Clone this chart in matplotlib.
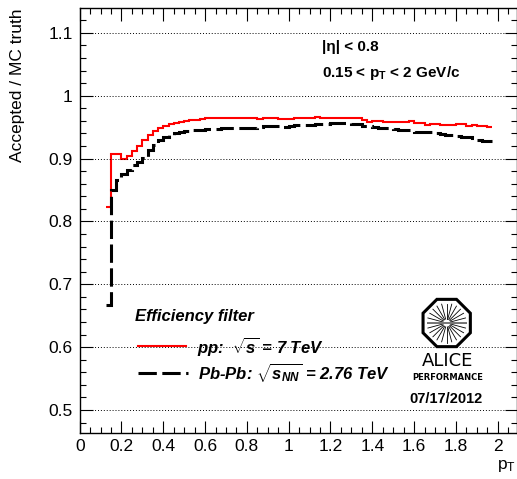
import numpy as np
import matplotlib
matplotlib.use('Agg')
import matplotlib.pyplot as plt
from matplotlib.lines import Line2D
from matplotlib.patches import RegularPolygon
from matplotlib.ticker import MultipleLocator, FuncFormatter

plt.rcParams['font.family'] = ['Liberation Sans', 'DejaVu Sans']
plt.rcParams['mathtext.fontset'] = 'custom'
plt.rcParams['mathtext.rm'] = 'Liberation Sans'
plt.rcParams['mathtext.it'] = 'Liberation Sans:italic'
plt.rcParams['mathtext.bf'] = 'Liberation Sans:bold'
try:
    plt.rcParams['mathtext.bfit'] = 'Liberation Sans:bold:italic'
except KeyError:
    pass

# ---------------- data ----------------
pt_edges = np.round(np.arange(0.125, 1.9751, 0.025), 3)   # 75 edges, 74 bins

pp_eff = [
    0.823, 0.908, 0.908, 0.900, 0.904, 0.912, 0.920, 0.930, 0.938, 0.944,
    0.948, 0.952, 0.955, 0.957, 0.958, 0.960, 0.961, 0.962, 0.963, 0.964,
    0.964, 0.965, 0.965, 0.965, 0.965, 0.965, 0.965, 0.965, 0.964, 0.963,
    0.964, 0.964, 0.964, 0.963, 0.963, 0.963, 0.964, 0.964, 0.965, 0.965,
    0.966, 0.965, 0.965, 0.965, 0.965, 0.965, 0.965, 0.964, 0.965, 0.962,
    0.958, 0.959, 0.959, 0.958, 0.958, 0.958, 0.958, 0.958, 0.959, 0.956,
    0.956, 0.954, 0.955, 0.955, 0.954, 0.954, 0.954, 0.955, 0.955, 0.952,
    0.953, 0.952, 0.952, 0.950,
]

pbpb_eff = [
    0.667, 0.850, 0.866, 0.876, 0.882, 0.890, 0.894, 0.901, 0.913, 0.921,
    0.929, 0.934, 0.938, 0.941, 0.943, 0.944, 0.945, 0.946, 0.946, 0.947,
    0.947, 0.947, 0.948, 0.948, 0.948, 0.948, 0.948, 0.948, 0.949, 0.950,
    0.951, 0.952, 0.952, 0.951, 0.950, 0.951, 0.953, 0.953, 0.954, 0.954,
    0.955, 0.955, 0.955, 0.956, 0.956, 0.956, 0.956, 0.955, 0.955, 0.952,
    0.951, 0.950, 0.948, 0.948, 0.948, 0.947, 0.946, 0.946, 0.945, 0.943,
    0.942, 0.942, 0.942, 0.941, 0.939, 0.938, 0.937, 0.936, 0.935, 0.934,
    0.932, 0.929, 0.928, 0.928,
]

x_ticks = [0, 0.2, 0.4, 0.6, 0.8, 1.0, 1.2, 1.4, 1.6, 1.8, 2.0]
y_ticks = [0.5, 0.6, 0.7, 0.8, 0.9, 1.0, 1.1]

# ---------------- figure ----------------
W, H = 517, 479
fig = plt.figure(figsize=(W / 100, H / 100), dpi=100)


def fx(px):
    return px / W


def fy(py):
    return 1 - py / H


ax = fig.add_axes([fx(79.7), fy(433.3), (516.5 - 79.7) / W, (433.3 - 8.3) / H])
ax.set_xlim(0, 2.09)
ax.set_ylim(0.463, 1.139)

ax.yaxis.grid(True, which='major', color='black', linestyle=(0, (1, 2)), linewidth=0.7)
ax.xaxis.grid(False)

ax.stairs(pp_eff, pt_edges, baseline=None, color='#ff0000', linewidth=1.5)
ax.stairs(pbpb_eff, pt_edges, baseline=None, color='black', linewidth=2.2,
          linestyle=(0, (6, 1.8)))

ax.set_xticks(x_ticks)
ax.set_yticks(y_ticks)
ax.xaxis.set_minor_locator(MultipleLocator(0.05))
ax.yaxis.set_minor_locator(MultipleLocator(0.02))
fmt = FuncFormatter(lambda v, p: f'{v:g}')
ax.xaxis.set_major_formatter(fmt)
ax.yaxis.set_major_formatter(fmt)
ax.tick_params(which='both', direction='in', top=True, right=True, labelsize=12.5,
               width=0.8)
ax.tick_params(which='major', length=9)
ax.tick_params(which='minor', length=4.5)
ax.tick_params(axis='x', pad=4)
ax.tick_params(axis='y', pad=5)
for s in ax.spines.values():
    s.set_linewidth(1.0)

# axis titles
fig.text(fx(18), fy(8), 'Accepted / MC truth', rotation=90, ha='center', va='top',
         fontsize=12.5)
fig.text(fx(516), fy(466), r'p$_{\mathrm{T}}$', ha='right', va='center', fontsize=12.5)

# cut labels
fig.text(fx(322), fy(47), '|η| < 0.8', fontsize=11, weight='bold', va='center')
fig.text(fx(322), fy(73), r'0.15 < p$_{\mathbf{T}}$ < 2 GeV/c', fontsize=11,
         weight='bold', va='center')

# legend
fig.text(fx(135), fy(317), 'Efficiency filter', fontsize=12, weight='bold',
         style='italic', va='center')
fig.add_artist(Line2D([fx(138), fx(186)], [fy(346), fy(346)], transform=fig.transFigure,
                      color='#ff0000', linewidth=1.5))
fig.add_artist(Line2D([fx(138), fx(188)], [fy(373), fy(373)], transform=fig.transFigure,
                      color='black', linewidth=2.2, linestyle=(0, (6, 1.8))))
fig.text(fx(197), fy(347), r'pp:  $\mathbfit{\sqrt{s}}$ = 7 TeV', fontsize=12,
         weight='bold', style='italic', va='center')
fig.text(fx(198), fy(372), r'Pb-Pb: $\mathbfit{\sqrt{s_{NN}}}$ = 2.76 TeV', fontsize=12,
         weight='bold', style='italic', va='center')

# ALICE performance logo
lx0, lx1, ly0, ly1 = 416, 478, 294, 352
lax = fig.add_axes([fx(lx0), fy(ly1), (lx1 - lx0) / W, (ly1 - ly0) / H])
lax.set_xlim(lx0, lx1)
lax.set_ylim(ly1, ly0)
lax.axis('off')
cx, cy = 446.7, 323
lax.add_patch(RegularPolygon((cx, cy), numVertices=8, radius=25.6,
                             orientation=np.pi / 8, fill=False, linewidth=2.2,
                             edgecolor='black'))
for a in np.linspace(0, 2 * np.pi, 24, endpoint=False):
    lax.plot([cx + 4 * np.cos(a), cx + 19.5 * np.cos(a)],
             [cy + 4 * np.sin(a), cy + 19.5 * np.sin(a)], color='black', lw=0.6)
lax.plot([cx - 19, cx + 19], [cy, cy], color='#777777', lw=1.4)

fig.text(fx(447.5), fy(361.5), 'ALICE', fontsize=13, family='DejaVu Sans',
         ha='center', va='center')
fig.text(fx(447.5), fy(378), 'PERFORMANCE', fontsize=6, weight='bold',
         family='DejaVu Sans', ha='center', va='center')
fig.text(fx(446.5), fy(399), '07/17/2012', fontsize=10.5, weight='bold',
         ha='center', va='center')

fig.savefig('out.png', dpi=100)
